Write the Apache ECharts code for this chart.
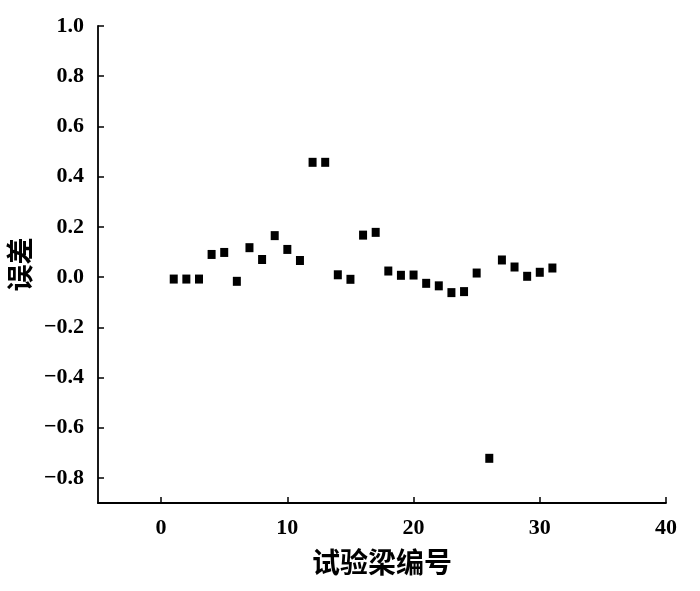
<!DOCTYPE html>
<html>
<head>
<meta charset="utf-8">
<script src="https://cdn.jsdelivr.net/npm/echarts@6/dist/echarts.min.js"></script>
<style>html,body{margin:0;padding:0;background:#fff;}#c{width:700px;height:591px;}</style>
</head>
<body>
<div id="c"></div>
<script>
var beamIds = [1,2,3,4,5,6,7,8,9,10,11,12,13,14,15,16,17,18,19,20,21,22,23,24,25,26,27,28,29,30,31];
var errors = [-0.008,-0.008,-0.008,0.09,0.098,-0.017,0.117,0.07,0.165,0.11,0.066,0.457,0.457,0.009,-0.009,0.167,0.178,0.024,0.007,0.008,-0.025,-0.035,-0.062,-0.058,0.016,-0.722,0.068,0.04,0.003,0.019,0.036];
var xTicks = [0,10,20,30,40];
var yTicks = [-0.8,-0.6,-0.4,-0.2,0,0.2,0.4,0.6,0.8,1.0];
var xName = '试验梁编号';
var yName = '误差';

var pts = beamIds.map(function(id,i){return [id, errors[i]];});
var chart = echarts.init(document.getElementById('c'));
var labelFont = {color:'#000', fontFamily:'Liberation Serif', fontWeight:'bold', fontSize:22};
chart.setOption({
  animation:false,
  backgroundColor:'#fff',
  grid:{left:98, right:34, top:26, bottom:88, containLabel:false, outerBoundsMode:'none'},
  xAxis:{
    type:'value', min:-5, max:40,
    name:xName, nameLocation:'middle', nameGap:45,
    nameTextStyle:{color:'#000', fontFamily:'Noto Sans CJK SC', fontWeight:'bold', fontSize:28},
    axisLine:{show:true, onZero:false, lineStyle:{color:'#000', width:1.8}},
    axisTick:{show:true, inside:true, length:6, customValues:xTicks, lineStyle:{color:'#000', width:1.5}},
    axisLabel:Object.assign({margin:14, customValues:xTicks}, labelFont),
    splitLine:{show:false}
  },
  yAxis:{
    type:'value', min:-0.9, max:1.0,
    name:yName, nameLocation:'middle', nameGap:56, nameRotate:90,
    nameTextStyle:{color:'#000', fontFamily:'Noto Sans CJK SC', fontWeight:'bold', fontSize:27},
    axisLine:{show:true, onZero:false, lineStyle:{color:'#000', width:1.8}},
    axisTick:{show:true, inside:true, length:6, customValues:yTicks, lineStyle:{color:'#000', width:1.5}},
    axisLabel:Object.assign({margin:14, customValues:yTicks, formatter:function(v){
      var s = Math.abs(v).toFixed(1); return v < 0 ? '\u2212' + s : s;}}, labelFont),
    splitLine:{show:false}
  },
  series:[{
    type:'scatter', data:pts, symbol:'rect', symbolSize:[8,9],
    itemStyle:{color:'#000', opacity:1}
  }]
});
</script>
</body>
</html>
